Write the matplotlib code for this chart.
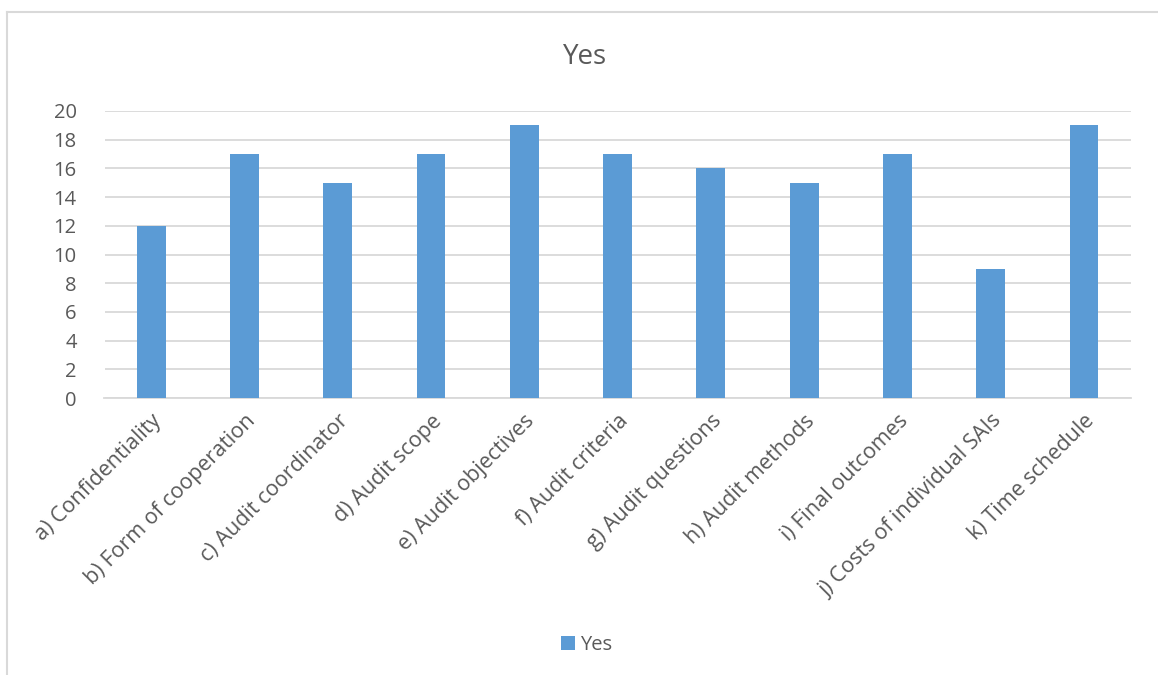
import matplotlib
matplotlib.use("Agg")
import matplotlib.pyplot as plt
from matplotlib.lines import Line2D
from matplotlib.patches import Patch

categories = ["a) Confidentiality", "b) Form of cooperation", "c) Audit coordinator",
              "d) Audit scope", "e) Audit objectives", "f) Audit criteria",
              "g) Audit questions", "h) Audit methods", "i) Final outcomes",
              "j) Costs of individual SAIs", "k) Time schedule"]
yes = [12, 17, 15, 17, 19, 17, 16, 15, 17, 9, 19]
yticks = [0, 2, 4, 6, 8, 10, 12, 14, 16, 18, 20]

bar_color = "#5B9BD5"
text_color = "#595959"
grid_color = "#D9D9D9"

plt.rcParams['font.family'] = ['Open Sans', 'DejaVu Sans']

W, H = 1158, 675
fig = plt.figure(figsize=(W / 100, H / 100), dpi=100)
ax = fig.add_axes([104.5 / W, 1 - 398 / H, (1130.6 - 104.5) / W, (398 - 111) / H])

x = range(len(categories))
ax.bar(x, yes, width=0.31, color=bar_color, zorder=3)
ax.set_xlim(-0.5, len(categories) - 0.5)
ax.set_ylim(0, 20)
ax.set_yticks(yticks)
ax.yaxis.grid(True, color=grid_color, linewidth=1.3, zorder=0)
for s in ["top", "right", "left"]:
    ax.spines[s].set_visible(False)
ax.spines["bottom"].set_color(grid_color)
ax.spines["bottom"].set_linewidth(1.3)
ax.tick_params(axis="both", length=0, colors=text_color, labelsize=14.5)
ax.tick_params(axis="y", pad=20)
ax.tick_params(axis="x", pad=9, labelsize=15.5)
ax.set_xticks(list(x))
ax.set_xticklabels(categories, rotation=45, ha="right", rotation_mode="anchor")

fig.text(585 / W, 1 - 57 / H, "Yes", ha="center", va="center", fontsize=20, color=text_color)

handles = [Patch(facecolor=bar_color, label="Yes")]
fig.legend(handles=handles, loc="center", bbox_to_anchor=(587 / W, 1 - 645 / H),
           frameon=False, fontsize=14.5, labelcolor=text_color,
           handlelength=0.7, handleheight=0.7, handletextpad=0.25)

# chart border (top and left edges visible in the reference)
fig.add_artist(Line2D([7.5 / W, 1.0], [1 - 11.5 / H] * 2, color=grid_color, linewidth=1.5,
                      transform=fig.transFigure))
fig.add_artist(Line2D([7.5 / W] * 2, [0, 1 - 11.5 / H], color=grid_color, linewidth=1.5,
                      transform=fig.transFigure))

fig.savefig("out.png", dpi=100)
